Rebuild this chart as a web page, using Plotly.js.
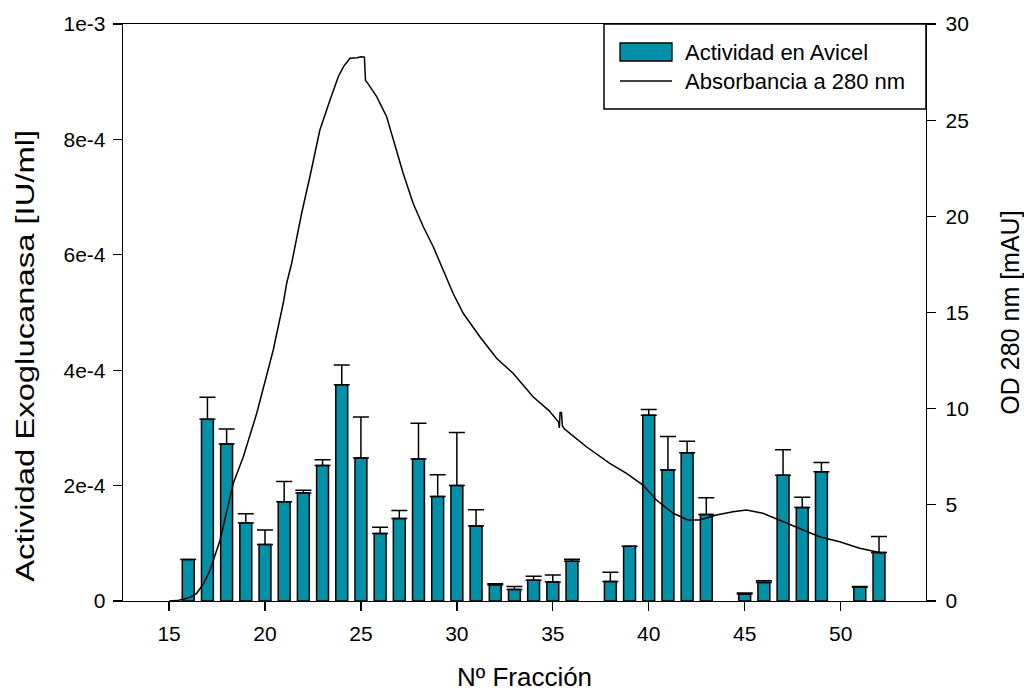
<!DOCTYPE html>
<html>
<head>
<meta charset="utf-8">
<script src="https://cdn.plot.ly/plotly-3.0.1.min.js"></script>
<style>html,body{margin:0;padding:0;background:#fff;}#chart{width:1024px;height:692px;}</style>
</head>
<body>
<div id="chart"></div>
<script>
// Fracciones con actividad medida (37, 44 y 50 sin dato)
const fractions = [16,17,18,19,20,21,22,23,24,25,26,27,28,29,30,31,32,33,34,35,36,38,39,40,41,42,43,45,46,47,48,49,51,52];
const activity = [7.2e-5,3.15e-4,2.72e-4,1.35e-4,9.8e-5,1.72e-4,1.87e-4,2.35e-4,3.75e-4,2.48e-4,1.17e-4,1.43e-4,2.46e-4,1.81e-4,2.0e-4,1.3e-4,2.8e-5,2.0e-5,3.6e-5,3.3e-5,6.9e-5,3.4e-5,9.5e-5,3.22e-4,2.27e-4,2.57e-4,1.5e-4,1.2e-5,3.2e-5,2.18e-4,1.62e-4,2.24e-4,2.4e-5,8.4e-5];
const activityErr = [null,3.8e-5,2.6e-5,1.6e-5,2.5e-5,3.5e-5,5e-6,1e-5,3.4e-5,7.1e-5,1.1e-5,1.4e-5,6.2e-5,3.8e-5,9.2e-5,2.8e-5,2e-6,5e-6,7e-6,1.2e-5,3.5e-6,1.6e-5,null,1.0e-5,5.8e-5,2.0e-5,2.9e-5,2e-6,3e-6,4.4e-5,1.8e-5,1.6e-5,1e-6,2.8e-5];
const activityErrMinus = fractions.map(() => 0);

const absX = [15.0,15.4,15.75,16.1,16.44,16.8,17.14,17.66,18.35,18.87,19.57,20.09,20.43,20.95,21.13,21.39,21.91,22.34,22.86,23.39,23.82,24.1,24.43,24.8,25.0,25.18,25.24,25.3,25.82,26.34,26.68,27.2,27.72,28.25,28.77,29.29,29.8,30.33,31.2,32.07,32.93,33.97,34.8,35.3,35.34,35.38,35.45,35.5,35.6,35.89,36.75,37.97,38.84,39.7,40.4,41.27,42.05,42.66,43.53,44.39,45.09,45.95,46.82,47.86,48.9,49.95,50.99,52.2];
const absY = [0,0.02,0.09,0.2,0.4,0.9,1.61,3.17,6.12,7.5,9.76,11.66,13.05,15.48,16.52,17.56,20.16,22.06,24.49,26.05,27.26,27.8,28.22,28.25,28.3,28.28,27.05,27.0,26.22,25.18,23.97,22.24,20.68,19.46,18.42,17.21,16.0,14.96,13.74,12.62,11.84,10.62,9.9,9.3,9.0,9.8,9.8,9.1,8.95,8.72,8.02,7.16,6.64,6.03,5.25,4.56,4.21,4.21,4.47,4.64,4.73,4.56,4.21,3.78,3.34,3.08,2.74,2.48];

const xTicks = [15,20,25,30,35,40,45,50];
const yTickVals = [0,2e-4,4e-4,6e-4,8e-4,1e-3];
const yTickText = ['0','2e-4','4e-4','6e-4','8e-4','1e-3'];
const y2TickVals = [0,5,10,15,20,25,30];
const legendLabels = ['Actividad en Avicel', 'Absorbancia a 280 nm'];

const FONT = 'Liberation Sans, Arial, sans-serif';
const BAR_COLOR = '#0091A8';

// plot area in pixels (for placing legend box and titles)
const PL = 123, PR = 926, PT = 24, PB = 601;
const px = v => (v - PL) / (PR - PL);
const py = v => (PB - v) / (PB - PT);

const traces = [
  {
    type: 'bar', name: legendLabels[0],
    x: fractions, y: activity, width: 0.62,
    marker: {color: BAR_COLOR, line: {color: '#000', width: 1.5}},
    error_y: {type: 'data', symmetric: false, array: activityErr, arrayminus: activityErrMinus,
              color: '#000', thickness: 1.5, width: 8},
    yaxis: 'y'
  },
  {
    type: 'scatter', mode: 'lines', name: legendLabels[1],
    x: absX, y: absY, line: {color: '#000', width: 1.5},
    yaxis: 'y2'
  }
];

const layout = {
  width: 1024, height: 692,
  margin: {l: PL, r: 1024 - PR, t: PT, b: 692 - PB},
  paper_bgcolor: '#fff', plot_bgcolor: '#fff',
  font: {family: FONT, color: '#000', size: 21},
  showlegend: false,
  bargap: 0,
  xaxis: {
    range: [12.6, 54.45], tickvals: xTicks, ticks: 'outside', ticklen: 9, tickwidth: 1.3,
    tickcolor: '#000', showline: true, linecolor: '#000', linewidth: 1.3, mirror: true,
    showgrid: false, zeroline: false, tickfont: {size: 21, family: FONT}, ticklabelstandoff: 4,
    title: {text: 'Nº Fracción', font: {size: 26, family: FONT}, standoff: 38}
  },
  yaxis: {
    range: [0, 1e-3], tickvals: yTickVals, ticktext: yTickText, ticks: 'outside', ticklen: 9,
    tickwidth: 1.3, tickcolor: '#000', showline: true, linecolor: '#000', linewidth: 1.3,
    showgrid: false, zeroline: false, tickfont: {size: 21, family: FONT}, ticklabelstandoff: 3
  },
  yaxis2: {
    range: [0, 30], tickvals: y2TickVals, overlaying: 'y', side: 'right', ticks: 'outside',
    ticklen: 9, tickwidth: 1.3, tickcolor: '#000', showline: true, linecolor: '#000', linewidth: 1.3,
    showgrid: false, zeroline: false, tickfont: {size: 21, family: FONT}, ticklabelstandoff: 5,
    title: {text: 'OD 280 nm [mAU]', font: {size: 25, family: FONT}, standoff: 35}
  },
  shapes: [
    // legend box
    {type: 'rect', xref: 'paper', yref: 'paper', x0: px(604), x1: px(926), y0: py(109), y1: py(24),
     line: {color: '#000', width: 1.5}, fillcolor: '#fff', layer: 'above'},
    // bar swatch
    {type: 'rect', xref: 'paper', yref: 'paper', x0: px(620), x1: px(672), y0: py(61), y1: py(43),
     line: {color: '#000', width: 1.3}, fillcolor: BAR_COLOR, layer: 'above'},
    // line swatch
    {type: 'line', xref: 'paper', yref: 'paper', x0: px(620), x1: px(672), y0: py(81), y1: py(81),
     line: {color: '#000', width: 1.5}, layer: 'above'}
  ],
  annotations: [
    {xref: 'paper', yref: 'paper', x: px(683), y: py(52), xanchor: 'left', yanchor: 'middle',
     text: legendLabels[0], showarrow: false, font: {size: 22, family: FONT, color: '#000'}},
    {xref: 'paper', yref: 'paper', x: px(683), y: py(81), xanchor: 'left', yanchor: 'middle',
     text: legendLabels[1], showarrow: false, font: {size: 22, family: FONT, color: '#000'}},
    {xref: 'paper', yref: 'paper', x: px(25), y: py(356), xanchor: 'center', yanchor: 'middle',
     textangle: -90, text: 'Actividad Exoglucanasa [IU/ml]', showarrow: false,
     font: {size: 26, family: FONT, color: '#000'}}
  ]
};

Plotly.newPlot('chart', traces, layout, {staticPlot: true, displayModeBar: false}).then(gd => {
  const t = gd.querySelectorAll('.annotation-text');
  const last = t[t.length - 1];
  if (last) { last.setAttribute('textLength', '452'); last.setAttribute('lengthAdjust', 'spacingAndGlyphs'); }
});
</script>
</body>
</html>
